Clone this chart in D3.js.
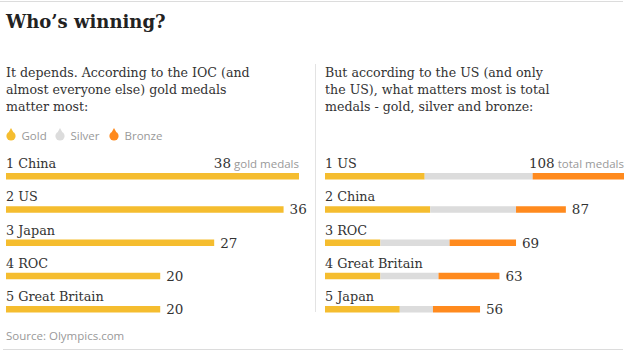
<!DOCTYPE html>
<html>
<head>
<meta charset="utf-8">
<script src="https://cdn.jsdelivr.net/npm/d3@7"></script>
<style>
  html, body { margin: 0; padding: 0; background: #fff; }
  svg { display: block; }
</style>
</head>
<body>
<svg id="chart" width="635" height="358"></svg>
<script>
// ---- data ----
const title = "Who\u2019s winning?";
const leftIntro = ["It depends. According to the IOC (and", "almost everyone else) gold medals", "matter most:"];
const rightIntro = ["But according to the US (and only", "the US), what matters most is total", "medals - gold, silver and bronze:"];
const medalTypes = ["Gold", "Silver", "Bronze"];
const medalColors = ["#f5bd2f", "#dcdcdc", "#ff8a1e"];

const goldCountries = ["China", "US", "Japan", "ROC", "Great Britain"];
const goldValues = [38, 36, 27, 20, 20];

const totalCountries = ["US", "China", "ROC", "Great Britain", "Japan"];
const totalGold = [36, 38, 20, 20, 27];
const totalSilver = [39, 31, 25, 21, 12];
const totalBronze = [33, 18, 24, 22, 17];

const sourceText = "Source: Olympics.com";

// ---- drawing ----
const svg = d3.select("#chart");
const serif = "'DejaVu Serif', serif";
const sans = "'Open Sans', 'Noto Sans', sans-serif";
const textColor = "#333";
const labelSize = 12.8;

// top and bottom rules
svg.append("line").attr("x1", 0).attr("x2", 623).attr("y1", 1.5).attr("y2", 1.5)
  .attr("stroke", "#dcdcdc").attr("stroke-width", 1);
svg.append("line").attr("x1", 3).attr("x2", 623).attr("y1", 349.5).attr("y2", 349.5)
  .attr("stroke", "#dcdcdc").attr("stroke-width", 1);

svg.append("text").attr("x", 6).attr("y", 28)
  .attr("font-family", serif).attr("font-weight", "bold").attr("font-size", 18)
  .attr("fill", "#222").text(title);

// divider
svg.append("line").attr("x1", 315.5).attr("x2", 315.5).attr("y1", 64).attr("y2", 312)
  .attr("stroke", "#e3e3e3").attr("stroke-width", 1);

function intro(lines, x) {
  const t = svg.append("text").attr("font-family", serif).attr("font-size", 12.6)
    .attr("fill", textColor);
  lines.forEach((l, i) => t.append("tspan").attr("x", x).attr("y", 77 + i * 17).text(l));
}
intro(leftIntro, 6);
intro(rightIntro, 325);

// legend
const legendX = [11, 60, 114];
const lg = svg.append("g").selectAll("g").data(medalTypes).join("g")
  .attr("transform", (d, i) => `translate(${legendX[i]},136)`);
lg.append("path").attr("d", "M-2.2,-4 L0,-8 L2.2,-4 Z").attr("fill", (d, i) => medalColors[i]);
lg.append("circle").attr("r", 4.6).attr("fill", (d, i) => medalColors[i]);
lg.append("text").attr("x", 10.5).attr("y", 4).attr("font-family", sans).attr("font-size", 11.5)
  .attr("fill", "#999").text(d => d);

const y = d3.scalePoint().domain(d3.range(5)).range([173, 306]);
const barH = 6.5;

// left panel
const xL = d3.scaleLinear().domain([0, d3.max(goldValues)]).range([6, 299]);
const left = svg.append("g");
const lrows = left.selectAll("g").data(goldCountries).join("g");
lrows.append("text").attr("x", 6).attr("y", (d, i) => y(i) - 5)
  .attr("font-family", serif).attr("font-size", labelSize).attr("fill", textColor)
  .text((d, i) => `${i + 1} ${d}`);
lrows.append("rect").attr("x", xL(0)).attr("y", (d, i) => y(i))
  .attr("width", (d, i) => xL(goldValues[i]) - xL(0)).attr("height", barH)
  .attr("fill", medalColors[0]);
lrows.each(function (d, i) {
  const g = d3.select(this);
  if (i === 0) {
    const t = g.append("text").attr("x", xL(goldValues[i])).attr("y", y(i) - 5)
      .attr("text-anchor", "end").attr("font-family", serif).attr("font-size", 13.5)
      .attr("fill", textColor);
    t.append("tspan").text(goldValues[i]);
    t.append("tspan").attr("font-family", sans).attr("font-size", 11.5).attr("fill", "#999")
      .text(" gold medals");
  } else {
    g.append("text").attr("x", xL(goldValues[i]) + 6).attr("y", y(i) + 8)
      .attr("font-family", serif).attr("font-size", 13.5).attr("fill", textColor)
      .text(goldValues[i]);
  }
});

// right panel
const totals = totalCountries.map((c, i) => totalGold[i] + totalSilver[i] + totalBronze[i]);
const xR = d3.scaleLinear().domain([0, d3.max(totals)]).range([325, 624]);
const right = svg.append("g");
const rrows = right.selectAll("g").data(totalCountries).join("g");
rrows.append("text").attr("x", 325).attr("y", (d, i) => y(i) - 5)
  .attr("font-family", serif).attr("font-size", labelSize).attr("fill", textColor)
  .text((d, i) => `${i + 1} ${d}`);
rrows.each(function (d, i) {
  const g = d3.select(this);
  const vals = [totalGold[i], totalSilver[i], totalBronze[i]];
  let acc = 0;
  vals.forEach((v, k) => {
    g.append("rect").attr("x", xR(acc)).attr("y", y(i))
      .attr("width", xR(acc + v) - xR(acc)).attr("height", barH)
      .attr("fill", medalColors[k]);
    acc += v;
  });
  if (i === 0) {
    const t = g.append("text").attr("x", xR(totals[i])).attr("y", y(i) - 5)
      .attr("text-anchor", "end").attr("font-family", serif).attr("font-size", 13.5)
      .attr("fill", textColor);
    t.append("tspan").text(totals[i]);
    t.append("tspan").attr("font-family", sans).attr("font-size", 11.5).attr("fill", "#999")
      .text(" total medals");
  } else {
    g.append("text").attr("x", xR(totals[i]) + 6).attr("y", y(i) + 8)
      .attr("font-family", serif).attr("font-size", 13.5).attr("fill", textColor)
      .text(totals[i]);
  }
});

svg.append("text").attr("x", 6).attr("y", 340).attr("font-family", sans).attr("font-size", 11.5)
  .attr("fill", "#999").text(sourceText);
</script>
</body>
</html>
